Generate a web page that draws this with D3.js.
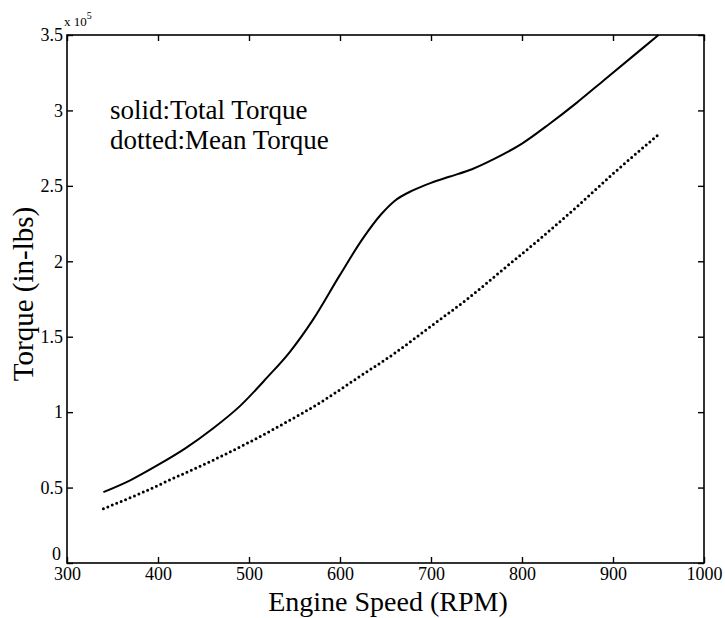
<!DOCTYPE html>
<html>
<head>
<meta charset="utf-8">
<script src="https://cdn.jsdelivr.net/npm/d3@7"></script>
<style>
  html, body { margin: 0; padding: 0; background: #fff; }
  svg { display: block; }
  text { font-family: "Liberation Serif", "Times New Roman", serif; fill: #000; }
</style>
</head>
<body>
<svg id="chart" width="725" height="618"></svg>
<script>
// Engine speed (RPM) and torque (in-lbs)
const totalRpm    = [340, 370, 400, 430, 460, 490, 520, 545, 570, 600, 625, 645, 660, 680, 700, 720, 745, 770, 800, 830, 860, 890, 920, 950];
const totalTorque = [47000, 55000, 65000, 76000, 89000, 104000, 123000, 140000, 161000, 191000, 215000, 231000, 240000, 247000, 252000, 256000, 261000, 268000, 278000, 291000, 305000, 320000, 335000, 350000];

const meanRpm     = [340, 380, 420, 460, 500, 540, 580, 620, 660, 700, 740, 780, 820, 860, 900, 950];
const meanTorque  = [36000, 46000, 57000, 68000, 80000, 93000, 107000, 123000, 139000, 157000, 175000, 195000, 215000, 236000, 258000, 284000];

const xTicks = [300, 400, 500, 600, 700, 800, 900, 1000];
const yTicks = [0, 50000, 100000, 150000, 200000, 250000, 300000, 350000];
const yTickLabels = ["0", "0.5", "1", "1.5", "2", "2.5", "3", "3.5"];

const legendLines = ["solid:Total Torque", "dotted:Mean Torque"];

const svg = d3.select("#chart");
const L = 67, R = 704, T = 35, B = 563;

const x = d3.scaleLinear().domain([300, 1000]).range([L, R]);
const y = d3.scaleLinear().domain([0, 350000]).range([B, T]);

// frame
svg.append("rect")
  .attr("x", L).attr("y", T).attr("width", R - L).attr("height", B - T)
  .attr("fill", "none").attr("stroke", "#000").attr("stroke-width", 1.6);

// inward ticks on all four sides
function styleAxis(g) {
  g.select(".domain").remove();
  g.selectAll(".tick line").attr("stroke", "#000").attr("stroke-width", 1.4);
}

svg.append("g").attr("transform", `translate(0,${B})`)
  .call(d3.axisBottom(x).tickValues(xTicks).tickSize(-6).tickFormat(d3.format("d")))
  .call(styleAxis)
  .call(g => g.selectAll("text").attr("font-size", 18).attr("font-family", "Liberation Serif").attr("y", 4).attr("dy", "0.71em"));

svg.append("g").attr("transform", `translate(0,${T})`)
  .call(d3.axisTop(x).tickValues(xTicks).tickSize(-6).tickFormat(""))
  .call(styleAxis);

svg.append("g").attr("transform", `translate(${L},0)`)
  .call(d3.axisLeft(y).tickValues(yTicks).tickSize(-6).tickFormat((d, i) => yTickLabels[i]))
  .call(styleAxis)
  .call(g => g.selectAll("text").attr("font-size", 18).attr("font-family", "Liberation Serif")
    .attr("x", d => d === 0 ? -6 : -4)
    .attr("y", d => d === 0 ? -9 : 0));

svg.append("g").attr("transform", `translate(${R},0)`)
  .call(d3.axisRight(y).tickValues(yTicks).tickSize(-6).tickFormat(""))
  .call(styleAxis);

// exponent marker
const ex = svg.append("text").attr("x", L - 3).attr("y", 26).attr("font-size", 13);
ex.append("tspan").text("x 10");
ex.append("tspan").attr("dy", -7).attr("font-size", 10).text("5");

// curves
const line = d3.line().x(d => x(d[0])).y(d => y(d[1])).curve(d3.curveMonotoneX);

svg.append("path")
  .datum(d3.zip(totalRpm, totalTorque))
  .attr("d", line)
  .attr("fill", "none").attr("stroke", "#000").attr("stroke-width", 2);

svg.append("path")
  .datum(d3.zip(meanRpm, meanTorque))
  .attr("d", line)
  .attr("fill", "none").attr("stroke", "#000").attr("stroke-width", 3)
  .attr("stroke-linecap", "round").attr("stroke-dasharray", "0 4.8");

// legend text
svg.selectAll(".legend").data(legendLines).enter().append("text")
  .attr("class", "legend")
  .attr("x", 110).attr("y", (d, i) => 119 + i * 30)
  .attr("font-size", 27)
  .text(d => d);

// axis titles
svg.append("text")
  .attr("x", 388).attr("y", 611).attr("text-anchor", "middle")
  .attr("font-size", 28).text("Engine Speed (RPM)");

svg.append("text")
  .attr("transform", "translate(33,294) rotate(-90)").attr("text-anchor", "middle")
  .attr("font-size", 29).text("Torque (in-lbs)");
</script>
</body>
</html>
